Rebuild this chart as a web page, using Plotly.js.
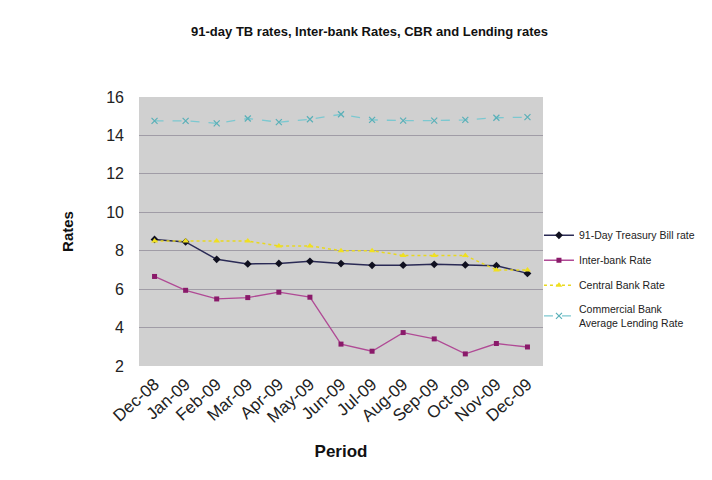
<!DOCTYPE html>
<html>
<head>
<meta charset="utf-8">
<script src="https://cdn.plot.ly/plotly-3.0.1.min.js"></script>
<style>html,body{margin:0;padding:0;background:#fff;}#chart{width:712px;height:480px;}</style>
</head>
<body>
<div id="chart"></div>
<script>
const periods = ["Dec-08","Jan-09","Feb-09","Mar-09","Apr-09","May-09","Jun-09","Jul-09","Aug-09","Sep-09","Oct-09","Nov-09","Dec-09"];
const tbRate = [8.59, 8.46, 7.55, 7.31, 7.34, 7.45, 7.33, 7.24, 7.25, 7.29, 7.26, 7.22, 6.82];
const interbankRate = [6.66, 5.94, 5.49, 5.56, 5.84, 5.58, 3.14, 2.77, 3.74, 3.41, 2.63, 3.17, 2.99];
const centralBankRate = [8.5, 8.5, 8.5, 8.5, 8.25, 8.25, 8.0, 8.0, 7.75, 7.75, 7.75, 7.0, 7.0];
const lendingRate = [14.76, 14.76, 14.63, 14.88, 14.69, 14.84, 15.10, 14.81, 14.77, 14.77, 14.81, 14.92, 14.95];

const traces = [
  {x: periods, y: tbRate, name: "91-Day Treasury Bill rate", legendgroup: "a", type: "scatter", mode: "lines+markers",
   line: {color: "#2a2a55", width: 1.5}, marker: {symbol: "diamond", size: 6, color: "#101020"}},
  {x: periods, y: interbankRate, name: "Inter-bank Rate", legendgroup: "b", type: "scatter", mode: "lines+markers",
   line: {color: "#b04a95", width: 1.3}, marker: {symbol: "square", size: 5, color: "#8a1a6a"}},
  {x: periods, y: centralBankRate, name: "Central Bank Rate", legendgroup: "c", type: "scatter", mode: "lines+markers",
   line: {color: "#e8d820", width: 1.5, dash: "dot"}, marker: {symbol: "triangle-up", size: 6, color: "#f0e020"}},
  {x: periods, y: lendingRate, name: "Commercial Bank<br>Average Lending Rate", legendgroup: "d", type: "scatter", mode: "lines+markers",
   line: {color: "#7cc8d0", width: 1.3, dash: "dash"}, marker: {symbol: "x-thin-open", size: 6, color: "#5ab0b8", line: {width: 1.2, color: "#5ab0b8"}}}
];

const layout = {
  width: 712, height: 480,
  margin: {l: 139, r: 167, t: 97, b: 114},
  paper_bgcolor: "#ffffff",
  plot_bgcolor: "#d0d0d0",
  font: {family: "Liberation Sans, Arial, sans-serif", color: "#1a1a1a"},
  title: {text: "<b>91-day TB rates, Inter-bank Rates, CBR and Lending rates</b>", font: {size: 13, color: "#111"},
          x: 0.519, xref: "container", xanchor: "center", y: 0.945, yref: "container"},
  xaxis: {
    type: "category", tickangle: -42, tickfont: {size: 17, color: "#222"},
    showgrid: false, zeroline: false, showline: false, ticks: "", ticklabelstandoff: 4,
    title: {text: "<b>Period</b>", font: {size: 17, color: "#111"}, standoff: 19},
    range: [-0.5, 12.5]
  },
  yaxis: {
    range: [2, 16], dtick: 2, tickfont: {size: 16, color: "#222"},
    showgrid: true, gridcolor: "#a09ca6", gridwidth: 1, zeroline: false, showline: false,
    ticks: "", ticklabelstandoff: 14,
    title: {text: "<b>Rates</b>", font: {size: 15, color: "#111"}, standoff: 28}
  },
  legend: {x: 0.99, xanchor: "left", y: 0.54, yanchor: "top", font: {size: 10.5, color: "#222"},
           bgcolor: "rgba(0,0,0,0)", tracegroupgap: 6, itemwidth: 30},
  showlegend: true
};

Plotly.newPlot("chart", traces, layout, {displayModeBar: false, staticPlot: true});
</script>
</body>
</html>
